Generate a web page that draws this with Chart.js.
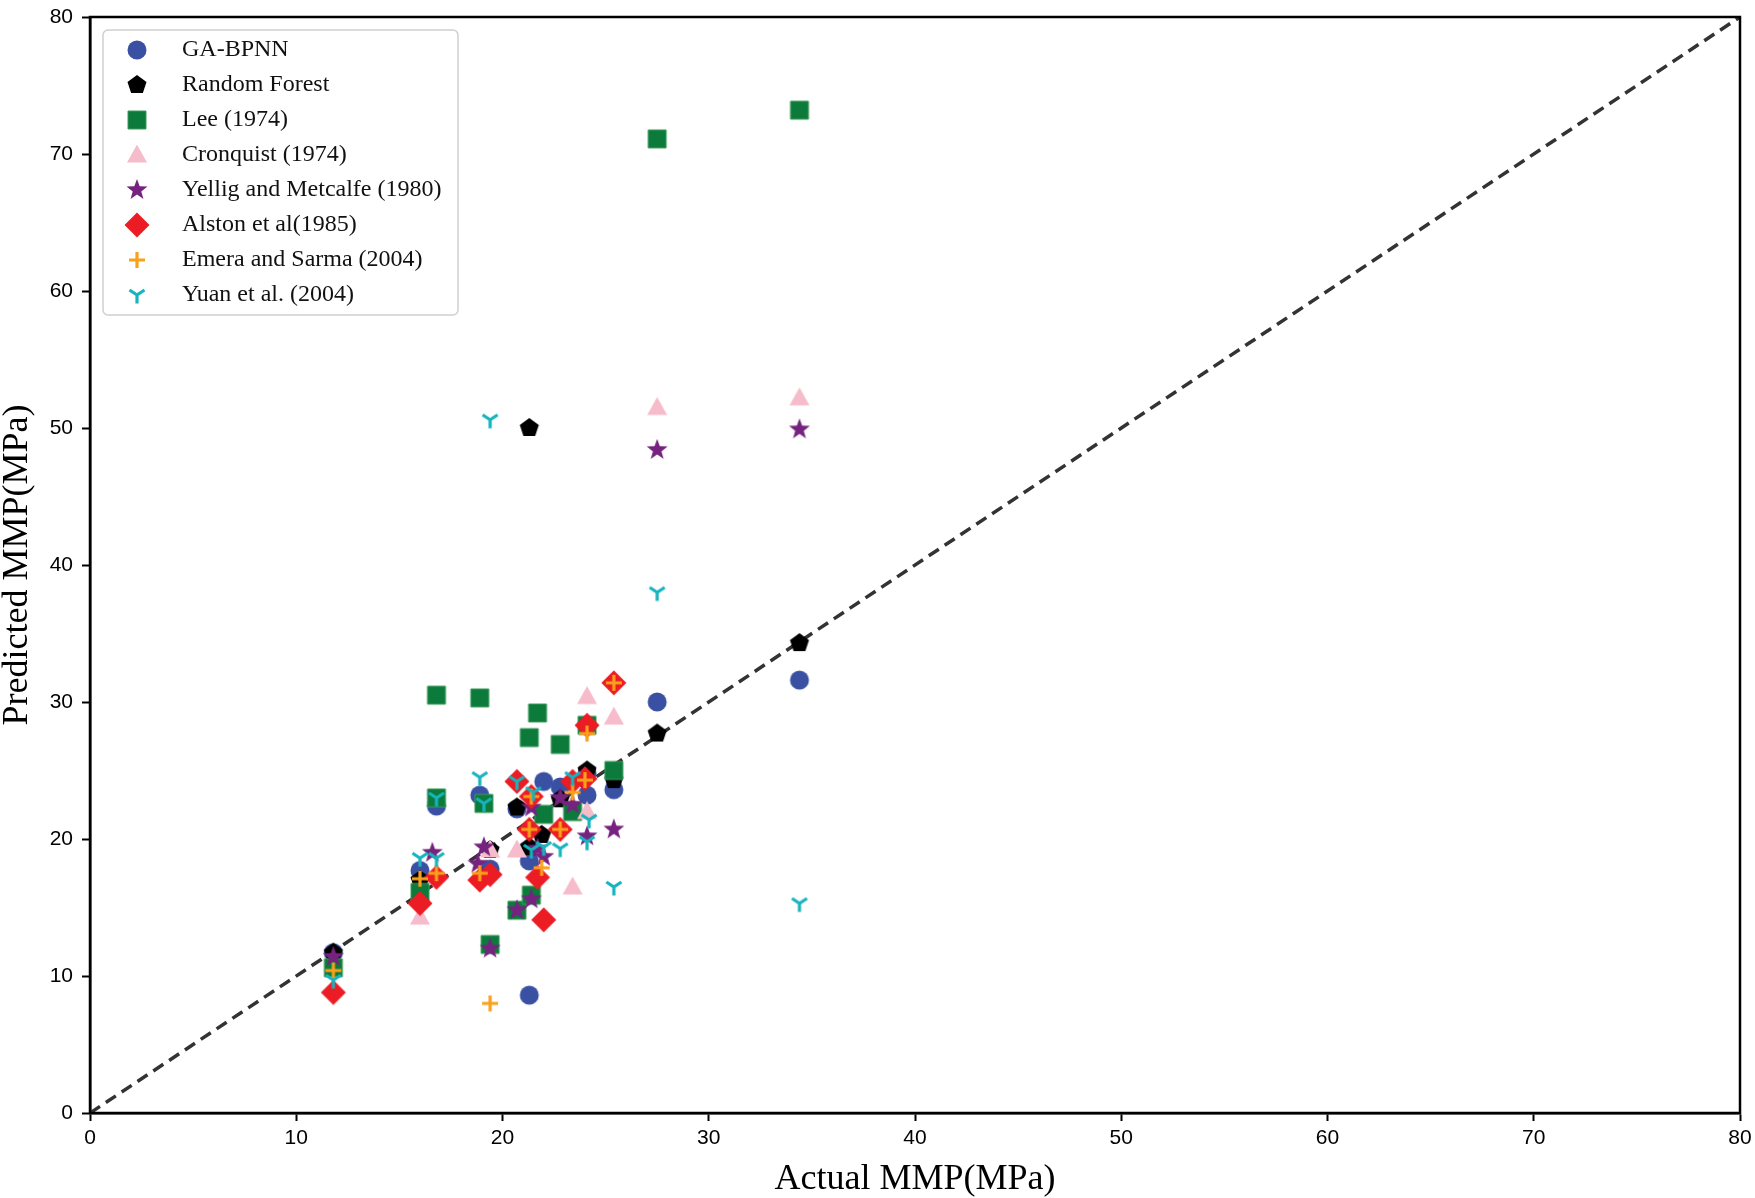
<!DOCTYPE html>
<html>
<head>
<meta charset="utf-8">
<script src="https://cdn.jsdelivr.net/npm/chart.js@4.4.0/dist/chart.umd.min.js"></script>
<style>
  html, body { margin:0; padding:0; background:#fff; }
  #wrap { width:1755px; height:1198px; position:relative; }
</style>
</head>
<body>
<div id="wrap"><canvas id="mmp" width="1755" height="1198"></canvas></div>
<script>
// axis ticks
const axisTicks = [0, 10, 20, 30, 40, 50, 60, 70, 80];
// y = x reference line
const diagX = [0, 80];
const diagY = [0, 80];

// series values (actual MMP, predicted MMP)
const gaX = [11.8, 16.0, 16.8, 18.9, 19.4, 20.7, 21.3, 21.3, 22.0, 22.8, 24.1, 24.1, 25.4, 27.5, 34.4];
const gaY = [11.7, 17.7, 22.4, 23.2, 17.8, 22.2, 8.6, 18.4, 24.2, 23.8, 24.8, 23.2, 23.6, 30.0, 31.6];

const rfX = [11.8, 16.0, 19.4, 20.7, 21.3, 21.3, 21.9, 22.8, 24.1, 25.4, 27.5, 34.4];
const rfY = [11.7, 17.0, 19.2, 22.3, 50.0, 19.4, 20.3, 22.9, 25.0, 24.3, 27.7, 34.3];

const leeX = [11.8, 16.0, 16.8, 16.8, 18.9, 19.1, 19.4, 20.7, 21.3, 21.4, 21.7, 22.0, 22.8, 23.4, 24.1, 25.4, 27.5, 34.4];
const leeY = [10.6, 16.1, 23.0, 30.5, 30.3, 22.6, 12.3, 14.8, 27.4, 15.9, 29.2, 21.8, 26.9, 22.0, 28.3, 25.0, 71.1, 73.2];

const crqX = [16.0, 19.4, 20.7, 23.4, 24.1, 24.1, 25.4, 27.5, 34.4];
const crqY = [14.3, 19.2, 19.2, 16.5, 22.0, 30.4, 28.9, 51.5, 52.2];

const ymX = [11.8, 16.6, 18.8, 19.1, 19.4, 20.7, 21.4, 21.4, 21.7, 22.0, 22.8, 23.4, 24.1, 25.4, 27.5, 34.4];
const ymY = [11.4, 19.0, 18.2, 19.4, 12.0, 14.8, 22.3, 15.6, 19.3, 18.7, 23.0, 22.5, 20.2, 20.7, 48.4, 49.9];

const alsX = [11.8, 16.0, 16.8, 18.9, 19.4, 20.7, 21.3, 21.4, 21.7, 22.0, 22.8, 23.4, 24.0, 24.1, 25.4];
const alsY = [8.8, 15.3, 17.2, 17.0, 17.4, 24.2, 20.7, 23.1, 17.2, 14.1, 20.7, 24.2, 24.4, 28.3, 31.4];

const emX = [11.8, 16.0, 16.8, 18.9, 19.4, 21.3, 21.4, 21.9, 22.8, 23.4, 24.0, 24.1, 25.4];
const emY = [10.4, 17.1, 17.5, 17.5, 8.0, 20.7, 23.1, 17.9, 20.7, 23.4, 24.3, 27.7, 31.4];

const yuX = [11.8, 16.0, 16.8, 16.8, 18.9, 19.1, 19.4, 20.7, 21.4, 21.5, 22.0, 22.8, 23.4, 24.1, 24.2, 25.4, 27.5, 34.4];
const yuY = [9.7, 18.6, 18.6, 23.0, 24.5, 22.6, 50.6, 24.2, 19.2, 23.4, 19.4, 19.3, 24.5, 19.8, 21.4, 16.5, 38.0, 15.3];

const seriesNames = ['GA-BPNN', 'Random Forest', 'Lee (1974)', 'Cronquist (1974)', 'Yellig and Metcalfe (1980)', 'Alston et al(1985)', 'Emera and Sarma (2004)', 'Yuan et al. (2004)'];

const pts = (xs, ys) => xs.map((x, i) => ({ x, y: ys[i] }));

// marker glyphs drawn into small canvases (matplotlib-like shapes)
function marker(kind, color) {
  const S = 30, c = document.createElement('canvas');
  c.width = S; c.height = S;
  const g = c.getContext('2d');
  g.translate(S/2, S/2);
  g.fillStyle = color; g.strokeStyle = color;
  g.beginPath();
  if (kind === 'circle') { g.arc(0, 0, 9.5, 0, Math.PI*2); g.fill(); }
  else if (kind === 'pentagon') {
    for (let i = 0; i < 5; i++) { const a = -Math.PI/2 + i*2*Math.PI/5; g.lineTo(10*Math.cos(a), 10*Math.sin(a)); }
    g.closePath(); g.fill();
  }
  else if (kind === 'square') { g.rect(-9, -9, 18, 18); g.fill(); g.strokeStyle = '#3f9a5c'; g.lineWidth = 1; g.stroke(); }
  else if (kind === 'triangle') { g.moveTo(0, -10.5); g.lineTo(10, 7.5); g.lineTo(-10, 7.5); g.closePath(); g.fill(); }
  else if (kind === 'star') {
    for (let i = 0; i < 10; i++) { const a = -Math.PI/2 + i*Math.PI/5, r = i % 2 ? 4.5 : 11; g.lineTo(r*Math.cos(a), r*Math.sin(a)); }
    g.closePath(); g.fill();
  }
  else if (kind === 'diamond') { g.moveTo(0, -12.5); g.lineTo(12.5, 0); g.lineTo(0, 12.5); g.lineTo(-12.5, 0); g.closePath(); g.fill(); }
  else if (kind === 'plus') { g.lineWidth = 3.2; g.moveTo(-8, 0); g.lineTo(8, 0); g.moveTo(0, -8); g.lineTo(0, 8); g.stroke(); }
  else if (kind === 'tri') {
    g.lineWidth = 3.2; g.lineCap = 'butt';
    g.moveTo(0, 0); g.lineTo(0, 8.5);
    g.moveTo(0, 0); g.lineTo(-7.5, -5);
    g.moveTo(0, 0); g.lineTo(7.5, -5);
    g.stroke();
  }
  return c;
}

const markers = [
  marker('circle', '#3a51a3'),
  marker('pentagon', '#000000'),
  marker('square', '#0b7a3b'),
  marker('triangle', '#f6bccb'),
  marker('star', '#76237f'),
  marker('diamond', '#ec1c24'),
  marker('plus', '#f9a11b'),
  marker('tri', '#17b4bf'),
];

const seriesData = [pts(gaX, gaY), pts(rfX, rfY), pts(leeX, leeY), pts(crqX, crqY), pts(ymX, ymY), pts(alsX, alsY), pts(emX, emY), pts(yuX, yuY)];

const datasets = seriesData.map((d, i) => ({
  type: 'scatter', label: seriesNames[i], data: d,
  pointStyle: markers[i], pointRadius: 10, pointHoverRadius: 10,
  order: 8 - i,   // later series on top, like matplotlib
}));
datasets.push({
  type: 'line', label: 'y=x', data: pts(diagX, diagY),
  borderColor: '#333', borderWidth: 3.5, borderDash: [12, 7],
  pointRadius: 0, fill: false, order: 20,
});

// legend box + frame
const boxPlugin = {
  id: 'boxLegend',
  afterDraw(chart) {
    const { ctx, chartArea: a } = chart;
    ctx.save();
    ctx.strokeStyle = '#000'; ctx.lineWidth = 2.5;
    ctx.strokeRect(a.left, a.top, a.right - a.left, a.bottom - a.top);

    const L = a.left + 13, T = a.top + 13, W = 355, H = 285;
    ctx.beginPath();
    ctx.roundRect(L, T, W, H, 5);
    ctx.fillStyle = 'rgba(255,255,255,0.85)'; ctx.fill();
    ctx.strokeStyle = '#d0d0d0'; ctx.lineWidth = 1.5; ctx.stroke();

    ctx.font = '24px "Liberation Serif", "DejaVu Serif", serif';
    ctx.fillStyle = '#111'; ctx.textBaseline = 'middle';
    seriesNames.forEach((name, i) => {
      const y = T + 20 + i * 35;
      const m = markers[i];
      ctx.drawImage(m, L + 34 - m.width/2, y - m.height/2);
      ctx.fillText(name, L + 79, y);
    });
    ctx.restore();
  }
};

new Chart(document.getElementById('mmp'), {
  data: { datasets },
  options: {
    responsive: false, animation: false,
    layout: { padding: { left: 0, right: 15, top: 17, bottom: 0 } },
    plugins: { legend: { display: false }, tooltip: { enabled: false } },
    scales: {
      x: {
        type: 'linear', min: 0, max: 80,
        afterBuildTicks: s => { s.ticks = axisTicks.map(v => ({ value: v })); },
        afterFit: s => { s.height = 85; s.paddingLeft = 0; s.paddingRight = 0; },
        grid: { drawOnChartArea: false, tickLength: 8, tickWidth: 2, color: '#000' },
        border: { color: '#000', width: 2.5 },
        ticks: { color: '#000', padding: 5, font: { family: '"Liberation Sans", Arial, sans-serif', size: 21 } },
        title: { display: true, text: 'Actual MMP(MPa)', color: '#000', padding: 0,
                 font: { family: '"Liberation Serif", "DejaVu Serif", serif', size: 36, lineHeight: 1 } }
      },
      y: {
        type: 'linear', min: 0, max: 80,
        afterBuildTicks: s => { s.ticks = axisTicks.map(v => ({ value: v })); },
        afterFit: s => { s.width = 90; s.paddingTop = 0; s.paddingBottom = 0; },
        grid: { drawOnChartArea: false, tickLength: 8, tickWidth: 2, color: '#000' },
        border: { color: '#000', width: 2.5 },
        ticks: { color: '#000', padding: 9, font: { family: '"Liberation Sans", Arial, sans-serif', size: 21 } },
        title: { display: true, text: 'Predicted MMP(MPa)', color: '#000', padding: 0,
                 font: { family: '"Liberation Serif", "DejaVu Serif", serif', size: 36, lineHeight: 1 } }
      }
    }
  },
  plugins: [boxPlugin]
});
</script>
</body>
</html>
